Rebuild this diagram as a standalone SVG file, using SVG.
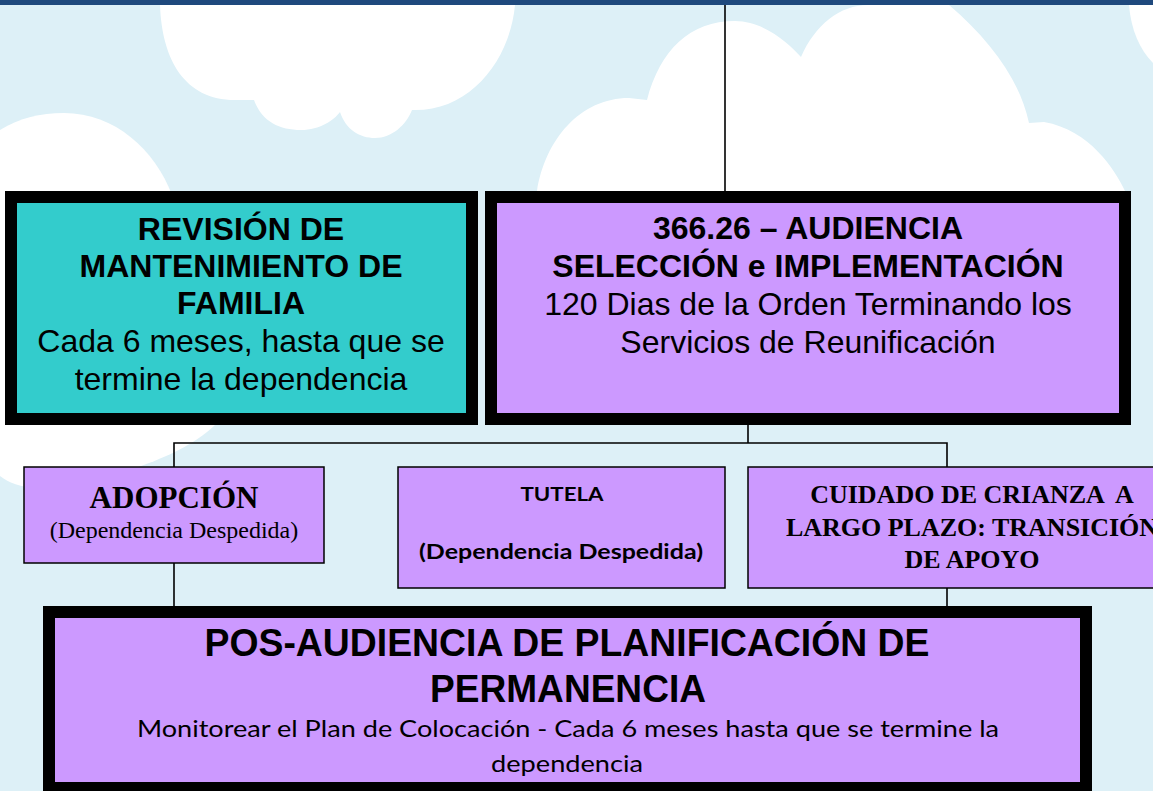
<svg xmlns="http://www.w3.org/2000/svg" width="1153" height="791" viewBox="0 0 1153 791">
<style>
.cloud{fill:#ffffff}
.thick{stroke:#000;stroke-width:12}
.thin{stroke:#000;stroke-width:1.5}
.purple{fill:#CC99FF}
.teal{fill:#33CCCC}
.conn{stroke:#000;stroke-width:1.6;fill:none}
.sans{font-family:"Liberation Sans",Arial,sans-serif;fill:#000}
.serif{font-family:"Liberation Serif","Times New Roman",serif;fill:#000}
.cal{font-family:Lato,"Open Sans",sans-serif;fill:#000}
</style>
<rect x="0" y="0" width="1153" height="791" fill="#DDF0F7"/>
<g id="clouds">
<path class="cloud" d="M160,5 C162,60 185,100 235,100 L254,100 C262,122 280,130 301,130 C320,130 334,120 340,112 C346,130 360,138 375,138 C392,138 406,125 412,110 C470,112 510,60 515,5 Z"/>
<path class="cloud" d="M0,130 C20,118 40,113 64,113 C115,113 155,150 172,195 L215,425 C185,455 110,482 40,488 C20,488 8,482 0,476 Z"/>
<path class="cloud" d="M537,191 C545,140 580,98 629,98 L647,100 C660,50 690,21 735,21 C765,21 790,45 801,57 C815,25 840,5 868,5 L949,5 C990,40 1020,80 1029,123 L1044,122 C1090,130 1115,170 1125,191 L1125,200 L537,200 Z"/>
<path class="cloud" d="M1129,5 L1153,5 L1153,63 C1140,50 1131,30 1129,5 Z"/>
</g>
<rect x="0" y="0" width="1153" height="5" fill="#1F497D"/>
<g id="connectors">
<line class="conn" x1="725" y1="5" x2="725" y2="191"/>
<polyline class="conn" points="748,425 748,443"/>
<polyline class="conn" points="174,467 174,443 947,443 947,467"/>
<line class="conn" x1="174" y1="563" x2="174" y2="606"/>
<line class="conn" x1="947" y1="588" x2="947" y2="606"/>
</g>
<g id="node-revision">
<rect class="thick teal" x="11" y="197" width="461" height="222"/>
<g class="sans" font-size="32" text-anchor="middle">
<text x="241" y="240" font-weight="bold">REVISIÓN DE</text>
<text x="241" y="277" font-weight="bold">MANTENIMIENTO DE</text>
<text x="241" y="314" font-weight="bold">FAMILIA</text>
<text x="241" y="352">Cada 6 meses, hasta que se</text>
<text x="241" y="390">termine la dependencia</text>
</g>
</g>
<g id="node-audiencia">
<rect class="thick purple" x="491" y="197" width="634" height="222"/>
<g class="sans" font-size="32" text-anchor="middle">
<text x="808" y="239" font-weight="bold">366.26 – AUDIENCIA</text>
<text x="808" y="277" font-weight="bold">SELECCIÓN e IMPLEMENTACIÓN</text>
<text x="808" y="315">120 Dias de la Orden Terminando los</text>
<text x="808" y="353">Servicios de Reunificación</text>
</g>
</g>
<g id="node-adopcion">
<rect class="thin purple" x="24" y="467" width="300" height="96"/>
<text class="serif" x="174" y="508" font-size="31" font-weight="bold" text-anchor="middle">ADOPCIÓN</text>
<text class="serif" x="174" y="538" font-size="24" text-anchor="middle">(Dependencia Despedida)</text>
</g>
<g id="node-tutela">
<rect class="thin purple" x="398" y="467" width="327" height="121"/>
<text class="cal" x="562" y="501" font-size="19" font-weight="bold" text-anchor="middle" textLength="83" lengthAdjust="spacingAndGlyphs">TUTELA</text>
<text class="cal" x="561" y="559" font-size="21" font-weight="bold" text-anchor="middle" textLength="284" lengthAdjust="spacingAndGlyphs">(Dependencia Despedida)</text>
</g>
<g id="node-cuidado">
<rect class="thin purple" x="748" y="467" width="460" height="121"/>
<g class="serif" font-size="26" font-weight="bold" text-anchor="middle">
<text x="972" y="503" xml:space="preserve">CUIDADO DE CRIANZA  A</text>
<text x="972" y="536">LARGO PLAZO: TRANSICIÓN</text>
<text x="972" y="568">DE APOYO</text>
</g>
</g>
<g id="node-pos">
<rect class="thick purple" x="49" y="612" width="1037" height="176"/>
<text class="sans" x="567" y="656" font-size="39" font-weight="bold" text-anchor="middle" textLength="725" lengthAdjust="spacingAndGlyphs">POS-AUDIENCIA DE PLANIFICACIÓN DE</text>
<text class="sans" x="568" y="702" font-size="39" font-weight="bold" text-anchor="middle" textLength="276" lengthAdjust="spacingAndGlyphs">PERMANENCIA</text>
<text class="cal" x="568" y="737" font-size="24" text-anchor="middle" textLength="862" lengthAdjust="spacingAndGlyphs">Monitorear el Plan de Colocación - Cada 6 meses hasta que se termine la</text>
<text class="cal" x="567" y="772" font-size="24" text-anchor="middle" textLength="152" lengthAdjust="spacingAndGlyphs">dependencia</text>
</g>
</svg>
